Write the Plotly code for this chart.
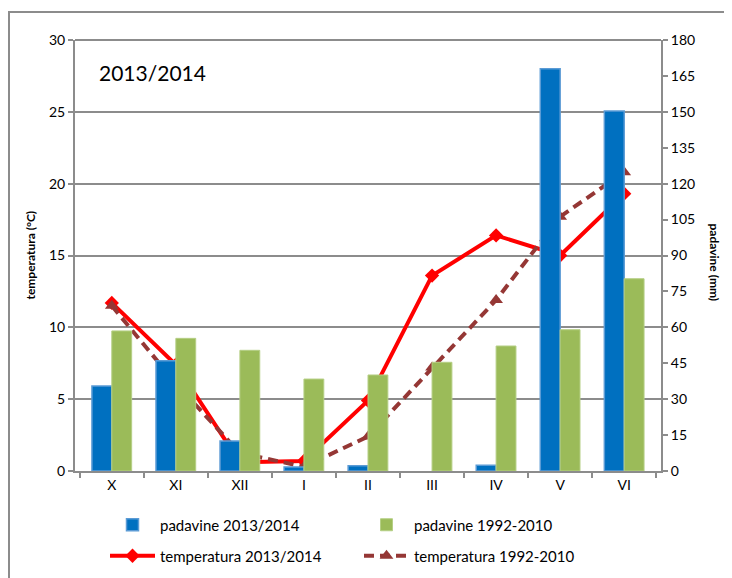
import plotly.graph_objects as go

# months (Oct 2013 - Jun 2014)
months = ['X', 'XI', 'XII', 'I', 'II', 'III', 'IV', 'V', 'VI']

# precipitation, mm (right axis)
rain_2013_14 = [35.5, 46, 12.5, 1.7, 2.2, 0, 2.4, 168, 150.3]
rain_1992_2010 = [58.5, 55.4, 50.4, 38.4, 40.1, 45.4, 52.2, 59, 80.3]

# temperature, °C (left axis)
temp_2013_14 = [11.7, 7.4, 0.6, 0.7, 4.9, 13.6, 16.4, 15.0, 19.3]
temp_1992_2010 = [11.5, 6.1, 1.25, 0.3, 2.4, 7.2, 11.9, 17.7, 20.8]

grid_col = '#8c8c8c'
font_fam = 'Lato, Open Sans, sans-serif'

# page body has an 8px margin, so everything is offset by that
OFF = 8
L, R, T, B = 75 - OFF, 732 - 661 + OFF, 40 - OFF, 578 - 471 + OFF
PW, PH = 586, 431


def px_x(px):
    return (px - 75) / PW


def px_y(py):
    return (471 - py) / PH


fig = go.Figure()

# no outline on empty bars
blue_edge = [1.5 if v > 0 else 0 for v in rain_2013_14]

fig.add_trace(go.Bar(
    x=months, y=rain_2013_14, name='padavine 2013/2014', yaxis='y2',
    marker=dict(color='#0070C0', line=dict(color='#5B9BD5', width=blue_edge)),
    legend='legend'
))
fig.add_trace(go.Bar(
    x=months, y=rain_1992_2010, name='padavine 1992-2010', yaxis='y2',
    marker=dict(color='#9BBB59', line=dict(color='#B5CF85', width=1)),
    legend='legend'
))
fig.add_trace(go.Scatter(
    x=months, y=temp_2013_14, name='temperatura 2013/2014', yaxis='y',
    mode='lines+markers',
    line=dict(color='#FF0000', width=4),
    marker=dict(symbol='diamond', size=11, color='#FF0000'),
    legend='legend2'
))
fig.add_trace(go.Scatter(
    x=months, y=temp_1992_2010, name='temperatura 1992-2010', yaxis='y',
    mode='lines+markers',
    line=dict(color='#953735', width=4, dash='10px,6px'),
    marker=dict(symbol='triangle-up', size=12, color='#953735'),
    legend='legend2'
))

leg_common = dict(orientation='h', x=px_x(105), xanchor='left', yanchor='middle',
                  entrywidth=194, font=dict(size=15), itemwidth=45,
                  bgcolor='rgba(0,0,0,0)')

fig.update_layout(
    width=732, height=578,
    margin=dict(l=L, r=R, t=T, b=B),
    paper_bgcolor='white', plot_bgcolor='white',
    font=dict(family=font_fam, size=14, color='black'),
    barmode='group', bargap=0.38, bargroupgap=0,
    showlegend=True,
    legend=dict(y=px_y(525), **leg_common),
    legend2=dict(y=px_y(556), **leg_common),
    xaxis=dict(
        showline=True, linecolor=grid_col, linewidth=2,
        ticks='outside', tickson='boundaries', ticklen=5, tickcolor=grid_col,
        tickwidth=2, showgrid=False
    ),
    yaxis=dict(
        range=[0, 30], dtick=5, showline=True, linecolor=grid_col, linewidth=2,
        ticks='outside', ticklen=5, tickcolor=grid_col, tickwidth=2,
        showgrid=True, gridcolor=grid_col, gridwidth=2, zeroline=False
    ),
    yaxis2=dict(
        range=[0, 180], dtick=15, overlaying='y', side='right',
        showline=True, linecolor=grid_col, linewidth=2,
        ticks='outside', ticklen=5, tickcolor=grid_col, tickwidth=2,
        showgrid=False, zeroline=False
    ),
)

# top border of plot area
fig.add_shape(type='line', xref='paper', yref='paper', x0=0, x1=1, y0=1, y1=1,
              line=dict(color=grid_col, width=2))

# outer chart frame
fig.add_shape(type='rect', xref='paper', yref='paper',
              x0=px_x(9), x1=px_x(745), y0=px_y(600), y1=px_y(12),
              line=dict(color=grid_col, width=2), layer='below')

fig.add_annotation(text='2013/2014', xref='paper', yref='paper',
                   x=px_x(97), y=px_y(72),
                   xanchor='left', yanchor='middle', showarrow=False,
                   font=dict(size=21, color='black'))

fig.add_annotation(text='<b>temperatura (°C)</b>', xref='paper', yref='paper',
                   x=px_x(20), y=px_y(255), textangle=-90,
                   showarrow=False, font=dict(size=12, color='black'))
fig.add_annotation(text='<b>padavine (mm)</b>', xref='paper', yref='paper',
                   x=px_x(724), y=px_y(262), textangle=90,
                   showarrow=False, font=dict(size=12, color='black'))

fig.write_html('out.html')
